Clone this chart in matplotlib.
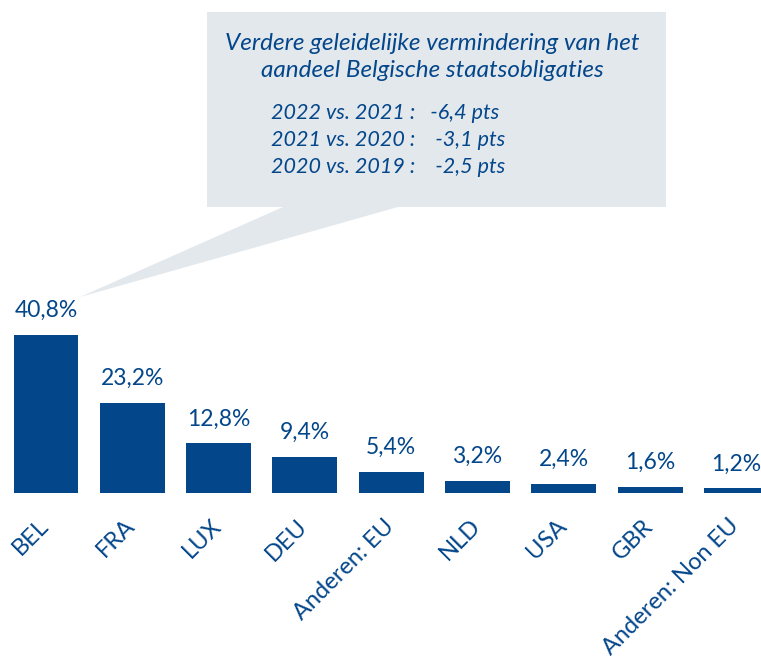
import matplotlib
matplotlib.use("Agg")
import matplotlib.pyplot as plt
from matplotlib.patches import Polygon
from matplotlib.transforms import ScaledTranslation

plt.rcParams["font.family"] = ["Lato", "DejaVu Sans"]

countries = ["BEL", "FRA", "LUX", "DEU", "Anderen: EU", "NLD", "USA", "GBR", "Anderen: Non EU"]
shares = [40.8, 23.2, 12.8, 9.4, 5.4, 3.2, 2.4, 1.6, 1.2]
labels = ["40,8%", "23,2%", "12,8%", "9,4%", "5,4%", "3,2%", "2,4%", "1,6%", "1,2%"]

callout_title = "Verdere geleidelijke vermindering van het\naandeel Belgische staatsobligaties"
callout_lines = ["2022 vs. 2021 :   -6,4 pts",
                 "2021 vs. 2020 :    -3,1 pts",
                 "2020 vs. 2019 :    -2,5 pts"]

BLUE = "#03468a"
GREY = "#e3e8ed"
W, H = 761, 663

fig = plt.figure(figsize=(W / 100, H / 100), dpi=100)
ax = fig.add_axes([0, 1 - 493 / H, 1, 493 / H])

x = list(range(len(countries)))
ax.bar(x, shares, width=0.753, color=BLUE)
for xi, v, lab in zip(x, shares, labels):
    ax.annotate(lab, (xi, v), xytext=(0, 10), textcoords="offset points",
                ha="center", va="bottom", fontsize=16.5, color=BLUE)

ax.set_xlim(-0.533, 8.284)
ax.set_ylim(0, 127.4)
ax.set_xticks(x)
ax.set_xticklabels(countries, rotation=45, ha="right", rotation_mode="anchor",
                   fontsize=17, color=BLUE)
ax.tick_params(axis="x", length=0, pad=16)
shift = ScaledTranslation(-8 / 100, 0, fig.dpi_scale_trans)
for t in ax.get_xticklabels():
    t.set_transform(t.get_transform() + shift)
ax.set_yticks([])
for s in ax.spines.values():
    s.set_visible(False)


def px(xp, yp):
    return (xp / W, 1 - yp / H)


# callout box with pointer towards the BEL label
box = Polygon([px(207, 12), px(666, 12), px(666, 207), px(398, 207),
               px(80, 297), px(283, 207), px(207, 207)],
              closed=True, transform=fig.transFigure, facecolor=GREY,
              edgecolor="none", zorder=0)
fig.patches.append(box)

fig.text(*px(432, 57), callout_title, ha="center", va="center", fontsize=17.5,
         style="italic", color=BLUE, linespacing=1.3)
for i, line in enumerate(callout_lines):
    fig.text(*px(271, 113 + 27 * i), line, ha="left", va="center", fontsize=15.5,
             style="italic", color=BLUE)

fig.savefig("out.png", dpi=100)
